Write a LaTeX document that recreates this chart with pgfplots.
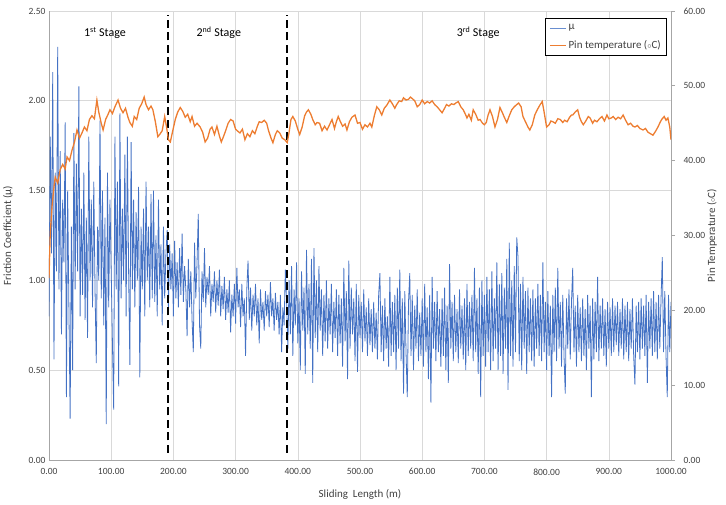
\documentclass[border=0pt]{standalone}
\usepackage{pgfplots}
\pgfplotsset{compat=1.18}
\usepackage{fontspec}
\setmainfont{Carlito}
\definecolor{mublue}{RGB}{68,114,196}
\definecolor{tempor}{RGB}{237,125,49}
\definecolor{gridc}{RGB}{217,217,217}
\definecolor{axc}{RGB}{166,166,166}
\definecolor{txt}{RGB}{64,64,64}
\begin{document}
\begin{tikzpicture}
\useasboundingbox (-49pt,-45pt) rectangle (677pt,460pt);
\pgfplotsset{
  base/.style={width=622pt,height=449pt,scale only axis,at={(0pt,0pt)},anchor=south west,
    xmin=0,xmax=1000,
    /pgf/number format/fixed,/pgf/number format/fixed zerofill,/pgf/number format/precision=2,
    /pgf/number format/1000 sep={},/pgf/number format/assume math mode=true,
    tick label style={font=\fontsize{9.5}{11}\selectfont,text=txt},
    label style={font=\fontsize{11}{13}\selectfont,text=txt},
    axis line style={-,axc,line width=0.8pt},
  }
}
\begin{axis}[base,
  ymin=0,ymax=2.5,ytick={0,0.5,1,1.5,2,2.5},xtick={0,100,...,1000},
  grid=major,grid style={gridc,line width=0.6pt},
  axis x line*=bottom,axis y line*=left,
  major tick length=0pt,
  xticklabel style={yshift=-5pt},
  xlabel={Sliding\ \ Length (m)},
  xlabel style={at={(axis description cs:0.5,0)},anchor=center,yshift=-34pt},
  ylabel={Friction Coefficient (μ)},
  ylabel style={at={(axis description cs:0,0.5)},anchor=center,yshift=41pt},
]
\addplot[mublue,line width=0.8pt] coordinates {
(0,0.80)(2,1.80)(4,1.15)(6,2.16)(8,0.56)(10,1.60)(12,1.05)(14,2.30)(16,0.95)(18,1.72)
(20,0.70)(22,1.45)(24,1.10)(26,1.88)(28,0.35)(30,1.50)(32,0.85)(34,0.23)(36,1.30)(38,0.50)
(40,1.82)(42,0.95)(44,1.65)(46,1.05)(48,2.08)(50,0.80)(52,1.40)(54,0.92)(56,1.60)(58,0.78)
(60,1.35)(62,0.68)(64,1.80)(66,1.00)(68,1.45)(70,0.85)(72,1.55)(74,0.95)(76,0.54)(78,1.30)
(80,1.00)(82,1.89)(84,0.90)(86,1.50)(88,0.75)(90,1.35)(92,0.20)(94,1.60)(96,0.85)(98,1.45)
(100,1.05)(102,0.65)(104,0.28)(106,1.80)(108,0.95)(110,1.55)(112,0.41)(114,1.93)(116,0.90)(118,1.40)
(120,1.00)(122,1.70)(124,0.80)(126,1.80)(128,1.05)(130,0.53)(132,1.77)(134,0.95)(136,1.45)(138,0.85)
(140,1.38)(142,1.00)(144,1.52)(146,0.46)(148,1.30)(150,0.95)(152,1.40)(154,0.80)(156,1.55)(158,1.00)
(160,1.30)(162,0.85)(164,1.48)(166,0.90)(168,1.50)(170,0.88)(172,1.25)(174,0.80)(176,1.45)(178,0.95)
(180,1.20)(182,0.75)(184,1.30)(186,0.90)(188,1.15)
(190,1.28)(192,0.85)(194,1.20)(196,0.95)(198,1.15)(200,0.80)(202,1.22)(204,0.90)(206,1.10)(208,0.85)
(210,1.18)(212,0.92)(214,1.26)(216,0.88)(218,1.08)(220,0.95)(222,0.69)(224,1.12)(226,0.85)(228,1.05)
(230,0.78)(232,0.60)(234,1.21)(236,0.90)(238,1.10)(240,1.37)(242,0.75)(244,0.62)(246,1.05)(248,0.88)
(250,1.18)(252,0.85)(254,1.02)(256,0.92)(258,1.08)(260,0.80)(262,0.98)(264,0.88)(266,1.05)(268,0.82)
(270,1.00)(272,0.86)(274,1.06)(276,0.80)(278,0.97)(280,0.84)(282,1.02)(284,0.78)(286,0.95)(288,0.82)
(290,1.00)(292,0.71)(294,0.92)(296,0.80)(298,0.98)(300,0.76)(302,1.07)(304,0.85)(306,0.95)(308,0.74)
(310,0.98)(312,0.80)(314,0.90)(316,0.58)(318,0.95)(320,1.11)(322,0.78)(324,0.96)(326,0.72)(328,0.92)
(330,0.80)(332,0.98)(334,0.75)(336,0.90)(338,0.65)(340,0.95)(342,0.78)(344,0.88)(346,0.72)(348,0.94)
(350,0.80)(352,0.92)(354,0.74)(356,0.99)(358,0.80)(360,0.90)(362,0.72)(364,0.93)(366,0.78)(368,0.88)
(370,0.70)(372,0.92)(374,0.60)(376,0.85)(378,0.75)(380,1.06)
(382,0.88)(384,0.62)(386,1.00)(388,0.70)(390,1.08)(392,0.58)(394,0.95)(396,0.75)(398,1.10)(400,0.65)
(402,0.90)(404,0.50)(406,1.05)(408,0.72)(410,0.96)(412,0.48)(414,1.17)(416,0.70)(418,0.98)(420,0.62)
(422,1.12)(424,0.43)(426,1.18)(428,0.68)(430,1.00)(432,0.60)(434,1.08)(436,0.72)(438,0.95)(440,0.58)
(442,0.92)(444,0.66)(446,1.00)(448,0.62)(450,0.90)(452,0.70)(454,0.98)(456,0.60)(458,0.88)(460,0.68)
(462,0.95)(464,0.58)(466,0.92)(468,0.65)(470,0.90)(472,0.52)(474,1.07)(476,0.66)(478,0.94)(480,0.45)
(482,1.11)(484,0.62)(486,0.96)(488,0.70)(490,0.90)(492,0.55)(494,0.98)(496,0.49)(498,0.92)(500,0.68)
(502,0.88)(504,0.60)(506,0.95)(508,0.66)(510,0.85)(512,0.58)(514,0.90)(516,0.64)(518,0.84)(520,0.60)
(522,0.88)(524,0.62)(526,0.82)(528,0.56)(530,0.92)(532,1.04)(534,0.60)(536,0.86)(538,0.55)(540,0.90)
(542,0.62)(544,0.80)(546,0.52)(548,1.02)(550,0.58)(552,0.88)(554,0.60)(556,0.92)(558,0.50)(560,0.96)
(562,0.62)(564,1.06)(566,0.55)(568,0.90)(570,0.37)(572,0.94)(574,0.60)(576,0.35)(578,0.88)(580,1.04)
(582,0.58)(584,0.92)(586,0.50)(588,0.86)(590,0.62)(592,0.95)(594,0.55)(596,0.82)(598,0.58)(600,0.90)
(602,0.52)(604,0.98)(606,0.60)(608,0.85)(610,0.45)(612,0.92)(614,0.32)(616,1.02)(618,0.62)(620,0.88)
(622,0.55)(624,0.94)(626,0.60)(628,0.84)(630,0.52)(632,0.90)(634,0.58)(636,0.96)(638,0.50)(640,0.86)
(642,0.43)(644,1.09)(646,0.62)(648,0.88)(650,0.55)(652,0.92)(654,0.60)(656,0.84)(658,0.54)(660,0.95)
(662,0.62)(664,0.86)(666,0.56)(668,0.90)(670,0.50)(672,0.98)(674,0.58)(676,0.88)(678,0.62)(680,0.92)
(682,0.55)(684,1.07)(686,0.60)(688,0.90)(690,0.48)(692,0.96)(694,0.35)(696,1.00)(698,0.58)(700,0.92)
(702,0.52)(704,1.02)(706,0.60)(708,0.95)(710,0.50)(712,1.05)(714,0.55)(716,0.90)(718,0.62)(720,1.10)
(722,0.50)(724,0.98)(726,0.58)(728,1.04)(730,0.48)(732,0.96)(734,0.62)(736,1.12)(738,0.39)(740,1.21)
(742,0.58)(744,1.00)(746,0.52)(748,1.08)(750,0.60)(752,1.24)(754,1.13)(756,0.55)(758,0.98)(760,0.50)
(762,1.02)(764,0.62)(766,0.94)(768,0.48)(770,0.96)(772,0.60)(774,0.90)(776,0.55)(778,0.95)(780,0.52)
(782,0.90)(784,0.62)(786,0.98)(788,0.58)(790,0.92)(792,0.55)(794,1.10)(796,0.60)(798,0.88)(800,0.50)
(802,0.94)(804,0.58)(806,0.86)(808,0.35)(810,0.92)(812,0.60)(814,0.96)(816,0.55)(818,1.07)(820,0.62)
(822,0.88)(824,0.52)(826,0.92)(828,0.58)(830,0.37)(832,0.90)(834,0.62)(836,0.95)(838,0.56)(840,0.88)
(842,1.07)(844,0.60)(846,0.86)(848,0.52)(850,0.92)(852,0.60)(854,0.85)(856,0.55)(858,0.90)(860,0.58)
(862,0.84)(864,0.50)(866,0.92)(868,0.62)(870,0.86)(872,0.35)(874,0.90)(876,0.56)(878,0.88)(880,0.60)
(882,1.02)(884,0.55)(886,0.86)(888,0.62)(890,0.90)(892,0.58)(894,0.84)(896,0.52)(898,0.88)(900,0.62)
(902,0.85)(904,0.58)(906,0.90)(908,0.60)(910,0.86)(912,0.64)(914,0.88)(916,0.58)(918,0.84)(920,0.62)
(922,0.90)(924,0.56)(926,0.86)(928,0.60)(930,0.88)(932,0.55)(934,0.84)(936,0.62)(938,0.90)(940,0.58)
(942,0.42)(944,0.86)(946,0.60)(948,0.88)(950,0.56)(952,0.90)(954,0.62)(956,0.86)(958,0.58)(960,0.92)
(962,0.43)(964,0.88)(966,0.62)(968,0.90)(970,0.58)(972,0.94)(974,0.60)(976,0.88)(978,0.56)(980,0.92)
(982,0.62)(984,0.90)(986,1.13)(988,0.60)(990,0.94)(992,0.58)(994,0.35)(996,0.92)(998,0.60)(1000,0.88)
};
\addplot[black,line width=2.2pt,dash pattern=on 8pt off 4.5pt] coordinates {(191,0.04)(191,2.48)};
\addplot[black,line width=2.2pt,dash pattern=on 8pt off 4.5pt] coordinates {(383,0.04)(383,2.48)};
\node[font=\fontsize{12}{14}\selectfont,text=black] at (axis cs:90,2.378) {1\textsuperscript{st} Stage};
\node[font=\fontsize{12}{14}\selectfont,text=black] at (axis cs:273,2.378) {2\textsuperscript{nd} Stage};
\node[font=\fontsize{12}{14}\selectfont,text=black] at (axis cs:690,2.378) {3\textsuperscript{rd} Stage};
\end{axis}
\begin{axis}[base,
  ymin=0,ymax=60,ytick={0,10,...,60},
  axis y line*=right,axis x line=none,
  tick align=outside,major tick length=4pt,ytick style={axc,line width=0.8pt},
  yticklabel style={xshift=5pt},
  ylabel={Pin Temperature ($\scriptstyle\circ$C)},
  ylabel style={at={(axis description cs:1,0.5)},anchor=center,yshift=-41pt},
  legend style={at={(0.994,0.984)},anchor=north east,draw=black,line width=1pt,
    font=\fontsize{11}{13}\selectfont,text=txt,cells={anchor=west},row sep=5pt,
    inner xsep=4pt,inner ysep=4pt},
  legend image code/.code={\draw[#1] (0pt,0pt) -- (16pt,0pt);},
]
\addlegendimage{mublue!80,line width=0.8pt}
\addlegendentry{μ}
\addplot[tempor,line width=1.3pt] coordinates {
(0,24.3)(2,30.3)(5,34.0)(8,36.5)(10,37.8)(14,37.0)(18,38.8)(22,39.5)(26,38.9)(29,40.5)
(33,40.0)(37,41.4)(41,42.5)(45,44.1)(49,43.0)(53,43.7)(57,44.5)(61,44.0)(65,45.5)(69,46.0)
(73,45.6)(77,48.1)(80,46.5)(84,45.0)(87,44.1)(91,45.5)(95,46.2)(98,46.8)(102,46.3)(106,47.2)
(111,48.1)(115,47.0)(119,46.4)(123,47.0)(127,45.8)(130,45.1)(134,44.6)(137,45.9)(141,45.5)(145,47.0)
(149,47.6)(153,48.5)(156,47.5)(160,46.8)(164,47.3)(167,46.8)(171,45.2)(175,43.2)(178,43.5)(182,44.0)
(186,45.9)(189,44.5)(192,42.8)(195,42.5)(199,44.0)(203,45.5)(207,46.5)(211,47.1)(215,46.6)(219,45.8)
(223,46.2)(227,45.2)(230,45.9)(234,44.6)(238,45.0)(243,44.5)(247,43.8)(251,42.5)(255,43.0)(259,44.2)
(262,44.5)(266,43.5)(270,44.6)(274,43.3)(277,42.5)(280,43.1)(284,44.0)(288,45.0)(292,45.5)(296,45.3)
(300,44.2)(304,43.9)(307,43.7)(311,44.2)(315,42.8)(319,43.6)(323,43.2)(327,44.0)(331,43.6)(335,44.6)
(338,45.2)(342,45.1)(346,45.4)(350,45.0)(353,44.0)(357,43.0)(360,42.4)(364,43.5)(367,44.0)(371,43.7)
(375,43.0)(379,42.8)(383,42.4)(386,43.8)(389,45.5)(392,45.9)(396,45.3)(400,44.2)(403,43.5)(407,44.5)
(411,46.0)(414,46.5)(417,46.8)(421,46.2)(424,45.5)(428,44.8)(431,45.1)(435,45.0)(439,44.0)(443,44.6)
(447,44.1)(451,44.8)(455,45.5)(459,44.3)(462,45.2)(465,45.9)(468,45.3)(472,44.6)(476,44.9)(479,44.1)
(483,45.2)(487,45.8)(492,46.1)(496,45.0)(500,45.1)(504,44.2)(508,44.8)(512,44.5)(516,45.0)(519,44.5)
(523,46.0)(527,47.2)(531,46.8)(535,46.1)(539,47.0)(543,47.4)(548,48.1)(552,47.6)(556,47.0)(559,47.5)
(563,48.0)(567,47.9)(570,48.4)(574,48.1)(578,48.2)(581,48.5)(584,48.3)(588,48.0)(592,47.2)(596,47.5)
(600,48.1)(604,47.6)(608,47.9)(612,47.7)(616,48.0)(620,47.5)(624,47.2)(628,46.8)(632,46.4)(636,47.0)
(639,47.5)(643,47.3)(647,47.6)(651,47.5)(654,47.7)(658,47.9)(662,47.2)(666,46.8)(670,46.1)(672,45.7)
(675,46.2)(679,45.4)(682,46.8)(686,46.2)(690,45.4)(693,45.5)(697,45.0)(700,44.8)(703,45.1)(706,46.1)
(709,46.8)(713,45.9)(717,44.5)(721,45.5)(725,47.1)(729,46.4)(732,45.8)(736,45.1)(740,46.0)(744,46.8)
(748,47.2)(752,47.5)(755,47.7)(759,47.2)(762,45.9)(766,45.2)(770,44.5)(773,44.1)(777,44.8)(781,46.1)
(785,46.8)(789,47.4)(793,47.9)(796,46.5)(800,44.5)(804,44.8)(807,45.3)(810,45.2)(814,45.0)(818,45.6)
(822,45.5)(826,45.1)(829,45.4)(833,45.2)(837,45.8)(840,46.1)(842,46.1)(846,46.5)(850,46.8)(853,45.8)
(856,45.2)(859,44.8)(863,45.3)(867,45.9)(870,45.7)(874,45.0)(877,45.4)(881,45.2)(885,45.6)(889,45.9)
(893,45.3)(897,46.1)(900,45.6)(904,45.7)(907,45.9)(911,45.5)(915,45.8)(919,45.6)(923,46.1)(927,45.4)
(931,44.8)(935,45.0)(939,44.6)(942,44.5)(946,44.7)(950,44.3)(955,44.1)(959,44.3)(963,43.8)(967,43.6)
(971,43.4)(975,43.9)(979,44.5)(983,45.2)(985,45.5)(989,45.9)(992,45.4)(995,45.7)(998,44.5)(1000,42.8)
};
\addlegendentry{Pin temperature ($\scriptstyle\circ$C)}
\end{axis}
\end{tikzpicture}
\end{document}
